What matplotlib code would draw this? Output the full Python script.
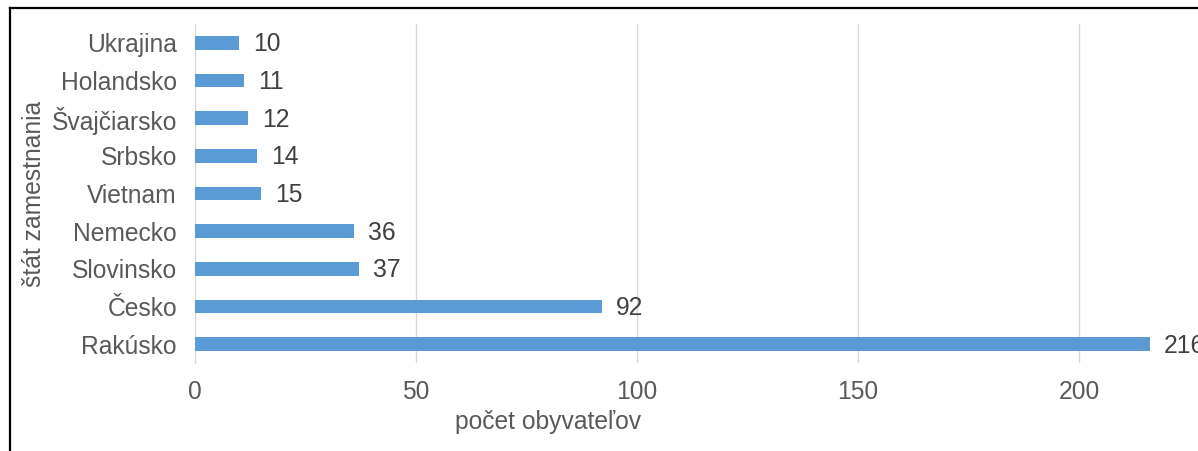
import matplotlib.pyplot as plt
from matplotlib.lines import Line2D

# data
countries = ["Ukrajina", "Holandsko", "Švajčiarsko", "Srbsko", "Vietnam",
             "Nemecko", "Slovinsko", "Česko", "Rakúsko"]
counts = [10, 11, 12, 14, 15, 36, 37, 92, 216]
x_ticks = [0, 50, 100, 150, 200]

bar_color = "#5B9BD5"
grid_color = "#D9D9D9"
text_gray = "#595959"
label_dark = "#404040"
fs = 17.7

plt.rcParams["font.family"] = ["Liberation Sans", "DejaVu Sans"]

fig = plt.figure(figsize=(11.98, 4.51), dpi=100)
W, H = 1198, 451

# axes spans beyond the right edge (chart is cropped there)
left_px, right_px = 195, 1300
top_px, bottom_px = 24, 363
ax = fig.add_axes([left_px / W, 1 - bottom_px / H,
                   (right_px - left_px) / W, (bottom_px - top_px) / H])

ypos = list(range(len(countries)))
ax.barh(ypos, counts, height=0.37, color=bar_color, zorder=3)
for y, v in zip(ypos, counts):
    ax.text(v + 3.2, y + 0.04, str(v), va="center", ha="left",
            fontsize=fs, color=label_dark, zorder=4)

ax.set_xlim(0, 250)
ax.set_ylim(len(countries) - 0.5, -0.5)
ax.set_yticks(ypos)
ax.set_yticklabels(countries)
ax.set_xticks(x_ticks)
ax.tick_params(axis="both", length=0, labelsize=fs, colors=text_gray)
ax.tick_params(axis="x", pad=12)
ax.tick_params(axis="y", pad=13)
ax.xaxis.grid(True, color=grid_color, linewidth=1, zorder=0)
for s in ["top", "right", "bottom"]:
    ax.spines[s].set_visible(False)
ax.spines["left"].set_color(grid_color)
ax.spines["left"].set_zorder(0)

ax.set_xlabel("počet obyvateľov", fontsize=fs, color=text_gray)
ax.xaxis.set_label_coords((548 - left_px) / (right_px - left_px),
                          -(410 - bottom_px) / (bottom_px - top_px))
ax.set_ylabel("štát zamestnania", fontsize=fs, color=text_gray)
ax.yaxis.set_label_coords(-(left_px - 46) / (right_px - left_px), 0.5)

# frame of the cropped chart box
fig.add_artist(Line2D([10 / W, 1], [1 - 8 / H, 1 - 8 / H],
                      transform=fig.transFigure, color="black", linewidth=1.6))
fig.add_artist(Line2D([10 / W, 10 / W], [0, 1 - 8 / H],
                      transform=fig.transFigure, color="black", linewidth=1.6))

fig.savefig("out.png", dpi=100)
